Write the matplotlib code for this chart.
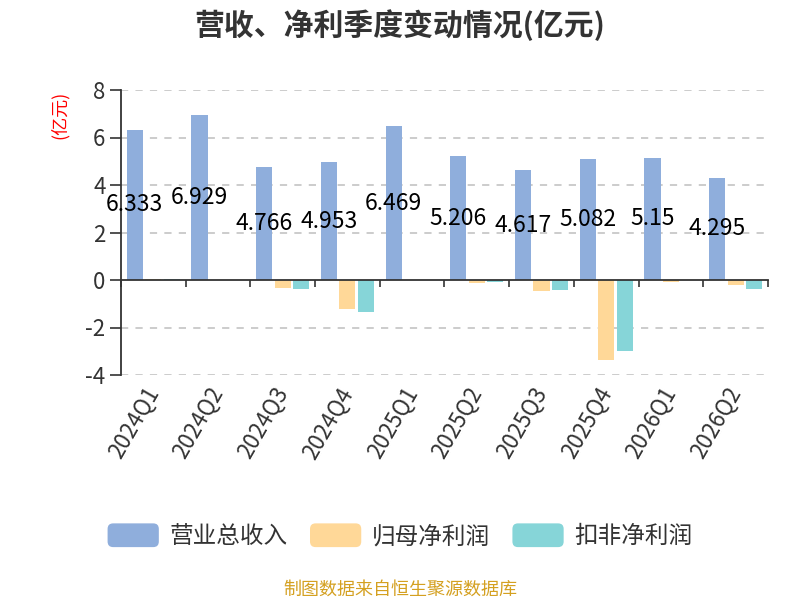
import matplotlib
matplotlib.use("Agg")
import matplotlib.pyplot as plt
import numpy as np
from matplotlib.patches import FancyBboxPatch, Rectangle
from matplotlib.legend_handler import HandlerPatch

plt.rcParams['font.family'] = ['Noto Sans CJK SC', 'DejaVu Sans']
plt.rcParams['axes.unicode_minus'] = False

categories = ["2024Q1", "2024Q2", "2024Q3", "2024Q4", "2025Q1",
              "2025Q2", "2025Q3", "2025Q4", "2026Q1", "2026Q2"]
revenue = [6.333, 6.929, 4.766, 4.953, 6.469, 5.206, 4.617, 5.082, 5.15, 4.295]
net_profit = [0.03, 0.02, -0.35, -1.23, 0.02, -0.11, -0.46, -3.38, -0.07, -0.22]
deducted_profit = [0.03, 0.02, -0.37, -1.33, 0.01, -0.10, -0.42, -2.99, 0.0, -0.36]
series_names = ["营业总收入", "归母净利润", "扣非净利润"]
colors = ["#8FAEDC", "#FFD898", "#86D5D8"]
yticks = [-4, -2, 0, 2, 4, 6, 8]

fig = plt.figure(figsize=(8, 6), dpi=100)
ax = fig.add_axes([0.151, 0.375, 0.809, 0.475])

x = np.arange(len(categories))
w = 0.25
off = 0.285
series = [revenue, net_profit, deducted_profit]
bars = []
for k, (vals, c, name) in enumerate(zip(series, colors, series_names)):
    b = ax.bar(x + (k - 1) * off, vals, width=w, color=c, label=name, zorder=3)
    bars.append(b)

for xi, v in zip(x, revenue):
    ax.text(xi - off, v / 2, f"{v:g}", ha='center', va='center',
            fontsize=16.5, color='black', zorder=5)

ax.set_xlim(-0.5, len(categories) - 0.5)
ax.set_ylim(-4, 8)
ax.set_yticks(yticks)
ax.set_yticklabels([str(t) for t in yticks])
ax.tick_params(axis='y', labelsize=16, colors='#333333', length=8, width=1.2,
               labelcolor='#333333', pad=3)
for t in yticks:
    if t != 0:
        ax.axhline(t, color='#c8c8c8', lw=1.3, ls=(0, (4, 4)), zorder=1)

for s in ['top', 'right']:
    ax.spines[s].set_visible(False)
ax.spines['left'].set_color('#333333')
ax.spines['left'].set_linewidth(1.3)
ax.spines['bottom'].set_position(('data', 0))
ax.spines['bottom'].set_color('#333333')
ax.spines['bottom'].set_linewidth(1.3)
ax.spines['bottom'].set_zorder(4)

ax.set_xticks(x)
ax.set_xticklabels([])
ax.tick_params(axis='x', which='major', length=0)
ax.set_xticks(np.arange(len(categories) + 1) - 0.5, minor=True)
ax.tick_params(axis='x', which='minor', length=5, width=1.2, color='#333333')

sec = ax.secondary_xaxis('bottom')
sec.set_xticks(x)
sec.set_xticklabels(categories, rotation=60, ha='right', va='center',
                    rotation_mode='anchor', fontsize=16, color='#333333')
sec.tick_params(axis='x', length=0, pad=10)
sec.spines['bottom'].set_visible(False)

fig.text(0.075, 0.808, "(亿元)", rotation=90, color='red', fontsize=13,
         ha='center', va='center')

fig.text(0.5, 0.958, "营收、净利季度变动情况(亿元)", ha='center', va='center',
         fontsize=21.5, fontweight='bold', color='#333333')


class HandlerRound(HandlerPatch):
    def create_artists(self, legend, orig_handle, xdescent, ydescent,
                       width, height, fontsize, trans):
        p = FancyBboxPatch((-xdescent, -ydescent), width, height,
                           boxstyle="round,pad=0,rounding_size=4",
                           facecolor=orig_handle.get_facecolor(),
                           edgecolor='none', transform=trans)
        return [p]


handles = [b.patches[0] for b in bars]
leg = fig.legend(handles, series_names, loc='center', ncol=3,
                 bbox_to_anchor=(0.5, 0.107), frameon=False, fontsize=17,
                 handlelength=2.17, handleheight=1.17, handletextpad=0.45,
                 columnspacing=0.95,
                 handler_map={Rectangle: HandlerRound()})
for t in leg.get_texts():
    t.set_color('#333333')

fig.text(0.5, 0.017, "制图数据来自恒生聚源数据库", ha='center', va='center',
         fontsize=13, color='#D4A020')

fig.savefig("out.png", dpi=100)
